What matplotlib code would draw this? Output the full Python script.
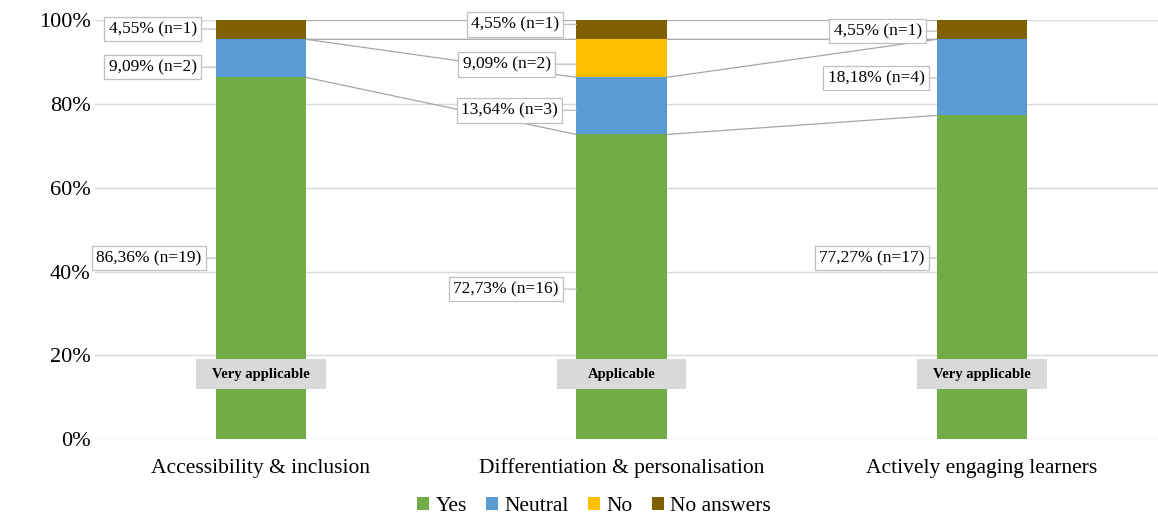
import numpy as np
import matplotlib.pyplot as plt
from matplotlib.patches import Rectangle

plt.rcParams['font.family'] = ['Liberation Serif', 'DejaVu Serif']

categories = ['Accessibility & inclusion', 'Differentiation & personalisation', 'Actively engaging learners']
series = ['Yes', 'Neutral', 'No', 'No answers']
pct = {
    'Yes': [86.36, 72.73, 77.27],
    'Neutral': [9.09, 13.64, 18.18],
    'No': [0.0, 9.09, 0.0],
    'No answers': [4.55, 4.55, 4.55],
}
counts = {
    'Yes': [19, 16, 17],
    'Neutral': [2, 3, 4],
    'No': [0, 2, 0],
    'No answers': [1, 1, 1],
}
ratings = ['Very applicable', 'Applicable', 'Very applicable']

colors = {'Yes': '#70AD47', 'Neutral': '#5B9BD5', 'No': '#FFC000', 'No answers': '#7F6000'}

# label box centres (x offset from bar centre, y in %), per series and bar
label_pos = {
    'Yes': [(-0.31, 43.2), (-0.32, 35.8), (-0.305, 43.2)],
    'Neutral': [(-0.30, 88.8), (-0.31, 78.5), (-0.294, 86.2)],
    'No': [None, (-0.318, 89.5), None],
    'No answers': [(-0.30, 97.9), (-0.295, 99.0), (-0.289, 97.4)],
}

width = 0.25
x = np.arange(len(categories))

fig = plt.figure(figsize=(11.58, 5.19), dpi=100)
ax = fig.add_axes([0.082, 0.154, 0.918, 0.807])

bottom = np.zeros(len(categories))
tops = []
for s in series:
    vals = np.array(pct[s])
    ax.bar(x, vals, width, bottom=bottom, color=colors[s], label=s, zorder=3)
    for i in range(len(x)):
        pos = label_pos[s][i]
        if pos is None:
            continue
        lo, hi = bottom[i], bottom[i] + vals[i]
        ty = min(max(pos[1], lo + 1), hi - 1)
        txt = f"{vals[i]:.2f}".replace('.', ',') + f"% (n={counts[s][i]})"
        ax.annotate(txt, xy=(x[i] - width / 2, ty), xytext=(x[i] + pos[0], pos[1]),
                    ha='center', va='center', fontsize=12.5, zorder=5,
                    bbox=dict(boxstyle='square,pad=0.25', fc='white', ec='#bfbfbf', lw=0.9),
                    arrowprops=dict(arrowstyle='-', color='#bfbfbf', lw=0.9,
                                    shrinkA=0, shrinkB=0))
    bottom = bottom + vals
    tops.append(bottom.copy())

# series lines between neighbouring bars
for t in tops:
    for i in range(len(x) - 1):
        ax.plot([x[i] + width / 2, x[i + 1] - width / 2], [t[i], t[i + 1]],
                color='#a6a6a6', lw=0.9, zorder=2)

# rating tags on each bar
for i, r in enumerate(ratings):
    ax.add_patch(Rectangle((x[i] - 0.18, 12.0), 0.36, 7.0, fc='#D9D9D9', ec='none', zorder=6))
    ax.text(x[i], 15.3, r, ha='center', va='center', fontsize=10.5, fontweight='bold', zorder=7)

ax.set_xlim(-0.46, 2.488)
ax.set_ylim(0, 100)
ax.set_yticks(np.arange(0, 101, 20))
ax.set_yticklabels([f"{v}%" for v in range(0, 101, 20)], fontsize=16)
ax.set_xticks(x)
ax.set_xticklabels(categories, fontsize=15.5)
ax.tick_params(axis='y', length=0, pad=3)
ax.tick_params(axis='x', length=0, pad=14)
ax.grid(axis='y', color='#d9d9d9', lw=1, zorder=0)
for sp in ax.spines.values():
    sp.set_visible(False)

fig.legend(loc='center', bbox_to_anchor=(0.513, 0.024), ncol=4, frameon=False, fontsize=15.5,
           handlelength=0.55, handleheight=0.55, handletextpad=0.3, columnspacing=0.9)

fig.savefig('out.png', dpi=100)
